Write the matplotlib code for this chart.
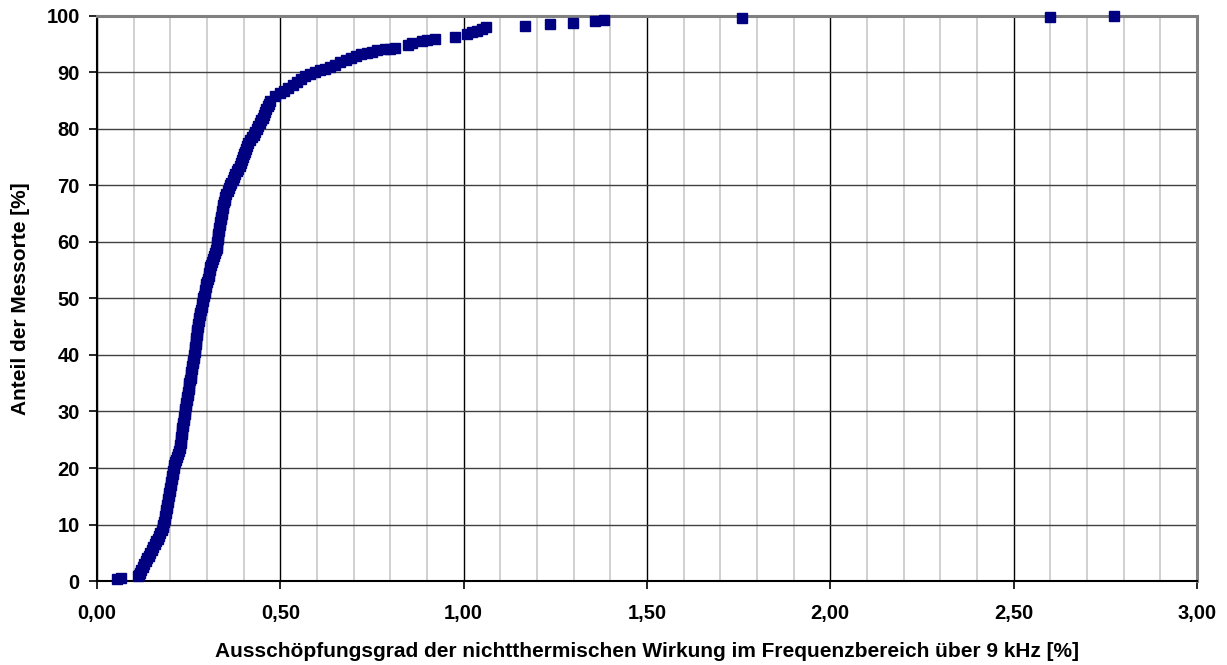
import matplotlib
matplotlib.use("Agg")
import matplotlib.pyplot as plt
from matplotlib.ticker import MultipleLocator, FuncFormatter

plt.rcParams["font.family"] = ["Liberation Sans", "DejaVu Sans"]

# Ausschöpfungsgrad [%] je Messort, sortiert
ausschoepfung = [
    0.055, 0.066, 0.112,
    0.114, 0.117, 0.120, 0.124, 0.128, 0.133, 0.137, 0.141, 0.145, 0.149,
    0.153, 0.157, 0.161, 0.165, 0.169, 0.173, 0.176, 0.179, 0.181, 0.183,
    0.185, 0.186, 0.188, 0.189, 0.191, 0.192, 0.193, 0.194, 0.196, 0.197,
    0.199, 0.200, 0.202, 0.203, 0.204, 0.205, 0.207, 0.208, 0.210, 0.211,
    0.213, 0.216, 0.218, 0.221, 0.223, 0.225, 0.227, 0.228, 0.229, 0.230,
    0.231, 0.232, 0.233, 0.234, 0.235, 0.236, 0.238, 0.239, 0.240, 0.241,
    0.242, 0.243, 0.245, 0.246, 0.247, 0.248, 0.250, 0.251, 0.252, 0.253,
    0.255, 0.256, 0.257, 0.258, 0.260, 0.261, 0.263, 0.264, 0.265, 0.266,
    0.267, 0.268, 0.269, 0.270, 0.271, 0.272, 0.273, 0.273, 0.274, 0.275,
    0.277, 0.278, 0.280, 0.281, 0.283, 0.285, 0.287, 0.288, 0.290, 0.292,
    0.294, 0.295, 0.297, 0.298, 0.300, 0.302, 0.304, 0.305, 0.307, 0.309,
    0.311, 0.314, 0.317, 0.320, 0.323, 0.325, 0.326, 0.327, 0.328, 0.329,
    0.330, 0.331, 0.332, 0.333, 0.335, 0.336, 0.338, 0.339, 0.340, 0.341,
    0.343, 0.344, 0.346, 0.348, 0.350, 0.353, 0.356, 0.359, 0.363, 0.366,
    0.370, 0.373, 0.377, 0.381, 0.385, 0.389, 0.393, 0.396, 0.399, 0.401,
    0.404, 0.407, 0.410, 0.413, 0.418, 0.423, 0.428, 0.432, 0.436, 0.440,
    0.444, 0.448, 0.452, 0.456, 0.459, 0.462, 0.465, 0.468, 0.472,
    0.486, 0.498, 0.510, 0.522, 0.534, 0.545, 0.556, 0.568, 0.580, 0.594,
    0.608, 0.622, 0.636, 0.650, 0.664, 0.678, 0.692, 0.706, 0.720, 0.736,
    0.750, 0.764, 0.785, 0.800, 0.812, 0.848, 0.860, 0.886, 0.900, 0.922,
    0.975, 1.009, 1.024, 1.036, 1.050, 1.062, 1.167, 1.235, 1.298, 1.358,
    1.382, 1.758, 2.599, 2.775,
]
# Anteil der Messorte [%]
anteil = [
    0.3, 0.5, 0.8,
    1.0, 1.5, 2.0, 2.5, 3.0, 3.5, 4.0, 4.5, 5.0, 5.5,
    6.0, 6.5, 7.0, 7.5, 8.0, 8.5, 9.0, 9.5, 10.0, 10.5,
    11.0, 11.5, 12.0, 12.5, 13.0, 13.5, 14.0, 14.5, 15.0, 15.5,
    16.0, 16.5, 17.0, 17.5, 18.0, 18.5, 19.0, 19.5, 20.0, 20.5,
    21.0, 21.5, 22.0, 22.5, 23.0, 23.5, 24.0, 24.5, 25.0, 25.5,
    26.0, 26.5, 27.0, 27.5, 28.0, 28.5, 29.0, 29.5, 30.0, 30.5,
    31.0, 31.5, 32.0, 32.5, 33.0, 33.5, 34.0, 34.5, 35.0, 35.5,
    36.0, 36.5, 37.0, 37.5, 38.0, 38.5, 39.0, 39.5, 40.0, 40.5,
    41.0, 41.5, 42.0, 42.5, 43.0, 43.5, 44.0, 44.5, 45.0, 45.5,
    46.0, 46.5, 47.0, 47.5, 48.0, 48.5, 49.0, 49.5, 50.0, 50.5,
    51.0, 51.5, 52.0, 52.5, 53.0, 53.5, 54.0, 54.5, 55.0, 55.5,
    56.0, 56.5, 57.0, 57.5, 58.0, 58.5, 59.0, 59.5, 60.0, 60.5,
    61.0, 61.5, 62.0, 62.5, 63.0, 63.5, 64.0, 64.5, 65.0, 65.5,
    66.0, 66.5, 67.0, 67.5, 68.0, 68.5, 69.0, 69.5, 70.0, 70.5,
    71.0, 71.5, 72.0, 72.5, 73.0, 73.5, 74.0, 74.5, 75.0, 75.5,
    76.0, 76.5, 77.0, 77.5, 78.0, 78.5, 79.0, 79.5, 80.0, 80.5,
    81.0, 81.5, 82.0, 82.5, 83.0, 83.5, 84.0, 84.5, 85.0,
    85.8, 86.3, 86.8, 87.3, 87.8, 88.3, 88.8, 89.3, 89.7, 90.1,
    90.4, 90.7, 91.0, 91.4, 91.8, 92.2, 92.6, 93.0, 93.2, 93.4,
    93.7, 94.0, 94.1, 94.2, 94.4, 94.9, 95.2, 95.6, 95.8, 96.0,
    96.3, 96.8, 97.1, 97.4, 97.7, 98.0, 98.3, 98.5, 98.8, 99.1,
    99.3, 99.6, 99.9, 100.0,
]

fig = plt.figure(figsize=(12.27, 6.65), dpi=100)
ax = fig.add_axes([0.0791, 0.1263, 0.8964, 0.8497])

ax.set_xlim(0, 3)
ax.set_ylim(0, 100)
ax.xaxis.set_major_locator(MultipleLocator(0.5))
ax.xaxis.set_minor_locator(MultipleLocator(0.1))
ax.yaxis.set_major_locator(MultipleLocator(10))
ax.xaxis.set_major_formatter(FuncFormatter(lambda v, p: f"{v:.2f}".replace(".", ",")))

ax.grid(which="minor", axis="x", color="#c8c8c8", lw=1.2, zorder=0)
ax.grid(which="major", axis="x", color="black", lw=1.0, zorder=0)
ax.grid(which="major", axis="y", color="#404040", lw=1.0, zorder=0)

ax.plot(ausschoepfung, anteil, ls="none", marker="s", ms=7.5,
        color="#000080", mec="#000080", clip_on=False, zorder=3)

for s in ("top", "right"):
    ax.spines[s].set_color("#808080")
    ax.spines[s].set_linewidth(2.2)
for s in ("left", "bottom"):
    ax.spines[s].set_color("black")
    ax.spines[s].set_linewidth(1.5)

ax.tick_params(which="major", direction="out", length=5.5, width=1.2, color="black")
ax.tick_params(which="minor", length=0)
ax.tick_params(axis="x", pad=11)
ax.tick_params(axis="y", pad=7)
for lbl in ax.get_xticklabels() + ax.get_yticklabels():
    lbl.set_fontsize(14.5)
    lbl.set_fontweight("bold")

ax.set_xlabel("Ausschöpfungsgrad der nichtthermischen Wirkung im Frequenzbereich über 9 kHz [%]",
              fontsize=15, fontweight="bold", labelpad=14)
ax.set_ylabel("Anteil der Messorte [%]", fontsize=15, fontweight="bold", labelpad=12)

fig.savefig("out.png", dpi=100)
